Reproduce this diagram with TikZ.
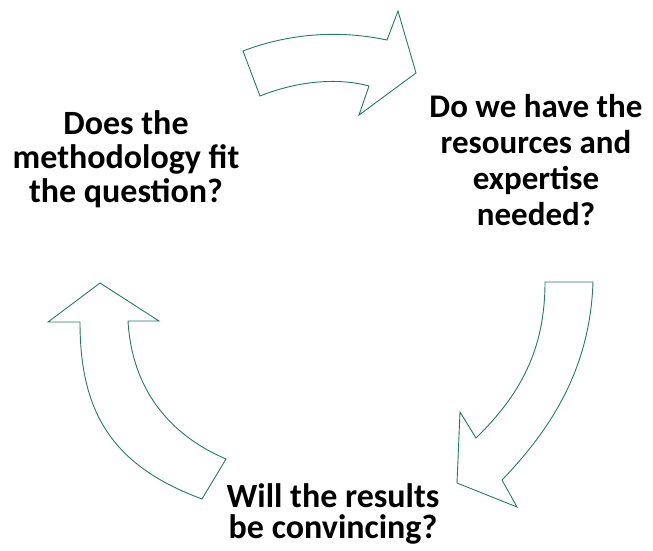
\documentclass[tikz,border=0pt]{standalone}
\usepackage{fontspec}
\setmainfont{Carlito}
\definecolor{arrowgreen}{RGB}{30,128,90}
\begin{document}
\begin{tikzpicture}[x=1pt,y=-1pt,
  cyclearrow/.style={draw=arrowgreen, line width=0.9pt, fill=white, line join=miter},
  question/.style={align=center, inner sep=0pt, anchor=base}]
\useasboundingbox (0,0) rectangle (653,550);
% top arrow
\draw[cyclearrow] (243,51) .. controls (290,33) and (340,30) .. (387,40)
  -- (398,11) -- (416,73) -- (359,115) -- (369,86)
  .. controls (340,78) and (300,80) .. (260,96) -- cycle;
% right arrow
\draw[cyclearrow] (545,282) -- (593,282)
  .. controls (590,370) and (550,430) .. (502,480)
  -- (517,507) -- (457,483) -- (460,412) -- (476,438)
  .. controls (520,395) and (545,350) .. (545,282) -- cycle;
% left arrow
\draw[cyclearrow] (100,283) -- (159,321) -- (128,321)
  .. controls (132,390) and (170,435) .. (226,459)
  -- (202,499)
  .. controls (110,465) and (80,410) .. (80,322)
  -- (48,322) -- cycle;
\node[question, font=\fontsize{34}{34}\selectfont\bfseries] (q1) at (126,202) {Does the\\methodology fit\\the question?};
\node[question, font=\fontsize{33}{36}\selectfont\bfseries] (q2) at (536,225) {Do we have the\\resources and\\expertise\\needed?};
\node[question, font=\fontsize{34}{31}\selectfont\bfseries] (q3) at (333,538) {Will the results\\be convincing?};
\end{tikzpicture}
\end{document}
